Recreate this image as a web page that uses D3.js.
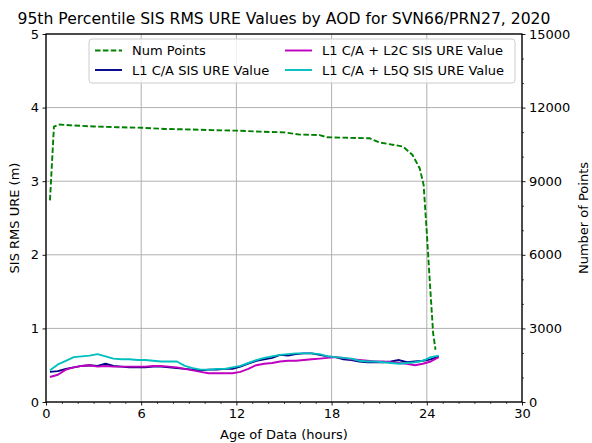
<!DOCTYPE html>
<html><head><meta charset="utf-8">
<script src="https://cdn.jsdelivr.net/npm/d3@7"></script>
<style>
body{margin:0;background:#fff;}
svg{font-family:"DejaVu Sans",sans-serif;}
</style></head>
<body><svg id="c" width="592" height="443"></svg>
<script>
const titleText = "95th Percentile SIS RMS URE Values by AOD for SVN66/PRN27, 2020";
const xLabel = "Age of Data (hours)";
const yLabel = "SIS RMS URE (m)";
const y2Label = "Number of Points";
const xTicks = [0, 6, 12, 18, 24, 30];
const yTicks = [0, 1, 2, 3, 4, 5];
const y2Ticks = [0, 3000, 6000, 9000, 12000, 15000];

const aod = [0.25,0.75,1.25,1.75,2.25,2.75,3.25,3.75,4.25,4.75,5.25,5.75,6.25,6.75,7.25,7.75,8.25,8.75,9.25,9.75,10.25,10.75,11.25,11.75,12.25,12.75,13.25,13.75,14.25,14.75,15.25,15.75,16.25,16.75,17.25,17.75,18.25,18.75,19.25,19.75,20.25,20.75,21.25,21.75,22.25,22.75,23.25,23.75,24.25,24.75];
const l1ca = [0.41,0.42,0.45,0.47,0.49,0.50,0.49,0.52,0.49,0.48,0.47,0.47,0.47,0.48,0.48,0.47,0.46,0.45,0.44,0.43,0.44,0.44,0.45,0.45,0.48,0.52,0.56,0.58,0.60,0.64,0.63,0.65,0.66,0.66,0.64,0.62,0.61,0.58,0.57,0.55,0.54,0.54,0.54,0.55,0.57,0.54,0.55,0.56,0.58,0.62];
const l1l2c = [0.34,0.37,0.44,0.47,0.49,0.50,0.48,0.49,0.48,0.48,0.48,0.48,0.48,0.49,0.49,0.48,0.47,0.45,0.43,0.41,0.39,0.39,0.39,0.39,0.41,0.45,0.50,0.52,0.53,0.55,0.56,0.56,0.57,0.58,0.59,0.60,0.61,0.60,0.58,0.57,0.56,0.55,0.55,0.54,0.53,0.52,0.50,0.52,0.55,0.61];
const l1l5q = [0.43,0.51,0.56,0.61,0.62,0.63,0.65,0.62,0.59,0.58,0.58,0.57,0.57,0.56,0.55,0.55,0.55,0.49,0.46,0.44,0.44,0.45,0.45,0.47,0.49,0.53,0.57,0.60,0.62,0.64,0.65,0.66,0.66,0.66,0.65,0.62,0.61,0.60,0.59,0.56,0.55,0.55,0.54,0.53,0.52,0.53,0.54,0.56,0.61,0.63];

const numHours = [0.25,0.5,0.8,1.5,3,4.5,6,7.5,9,10.5,12,13.5,15,16,17.25,17.7,19,20.4,21.0,22.0,22.5,23.1,23.55,23.8,24.0,24.2,24.4,24.55];
const numPoints = [8220,11220,11310,11280,11230,11200,11180,11130,11110,11080,11060,11020,10990,10900,10880,10790,10770,10750,10580,10470,10410,10070,9530,8850,6900,4800,2800,2130];

const W = 592, H = 443;
const m = {l:46, r:70, t:34, b:41};
const svg = d3.select("#c");
const pw = W - m.l - m.r, ph = H - m.t - m.b;
const x = d3.scaleLinear().domain([0,30]).range([m.l, m.l+pw]);
const y = d3.scaleLinear().domain([0,5]).range([m.t+ph, m.t]);
const y2 = d3.scaleLinear().domain([0,15000]).range([m.t+ph, m.t]);
const fs = 13;

// grid
const g = svg.append("g");
xTicks.forEach(t => g.append("line").attr("x1",x(t)).attr("x2",x(t)).attr("y1",m.t).attr("y2",m.t+ph).attr("stroke","#b0b0b0").attr("stroke-width",1));
yTicks.forEach(t => g.append("line").attr("x1",m.l).attr("x2",m.l+pw).attr("y1",y(t)).attr("y2",y(t)).attr("stroke","#b0b0b0").attr("stroke-width",1));

// lines
const series = [
  {name:"L1 C/A SIS URE Value", vals:l1ca, color:"#00008b"},
  {name:"L1 C/A + L2C SIS URE Value", vals:l1l2c, color:"#bf00bf"},
  {name:"L1 C/A + L5Q SIS URE Value", vals:l1l5q, color:"#00bfbf"}
];
const lineGen = d3.line().x(d=>x(d[0])).y(d=>y(d[1]));
svg.append("path").datum(numHours.map((h,i)=>[h,numPoints[i]]))
  .attr("d", d3.line().x(d=>x(d[0])).y(d=>y2(d[1])))
  .attr("fill","none").attr("stroke","#008000").attr("stroke-width",1.9).attr("stroke-dasharray","5.5,2.4");
series.forEach(s=>{
  svg.append("path").datum(aod.map((h,i)=>[h,s.vals[i]])).attr("d",lineGen)
    .attr("fill","none").attr("stroke",s.color).attr("stroke-width",1.9).attr("stroke-linejoin","round");
});

// axes
function styleAxis(sel){
  sel.selectAll(".domain").remove();
  sel.selectAll(".tick line").attr("stroke","#000").attr("stroke-width",0.9);
  sel.selectAll(".tick text").attr("font-size",fs).attr("fill","#000").attr("font-family","DejaVu Sans");
}
const xa = svg.append("g").attr("transform",`translate(0,${m.t+ph})`)
  .call(d3.axisBottom(x).tickValues(xTicks).tickSize(3.5).tickPadding(3.5).tickFormat(d3.format("d")));
styleAxis(xa);
const xm = svg.append("g").attr("transform",`translate(0,${m.t+ph})`)
  .call(d3.axisBottom(x).tickValues(d3.range(0,31,1).filter(v=>v%6!==0)).tickSize(2).tickFormat(""));
xm.selectAll(".domain").remove(); xm.selectAll(".tick line").attr("stroke","#000").attr("stroke-width",0.7);
const ya = svg.append("g").attr("transform",`translate(${m.l},0)`)
  .call(d3.axisLeft(y).tickValues(yTicks).tickSize(3.5).tickPadding(3.5).tickFormat(d3.format("d")));
styleAxis(ya);
const y2a = svg.append("g").attr("transform",`translate(${m.l+pw},0)`)
  .call(d3.axisRight(y2).tickValues(y2Ticks).tickSize(3.5).tickPadding(3.5).tickFormat(d3.format("d")));
styleAxis(y2a);
const y2m = svg.append("g").attr("transform",`translate(${m.l+pw},0)`)
  .call(d3.axisRight(y2).tickValues(d3.range(0,15001,1000).filter(v=>v%3000!==0)).tickSize(2).tickFormat(""));
y2m.selectAll(".domain").remove(); y2m.selectAll(".tick line").attr("stroke","#000").attr("stroke-width",0.7);

// frame
svg.append("rect").attr("x",m.l).attr("y",m.t).attr("width",pw).attr("height",ph)
  .attr("fill","none").attr("stroke","#000").attr("stroke-width",1.3);

// labels
svg.append("text").attr("x",m.l+pw/2).attr("y",24).attr("text-anchor","middle").attr("font-size",15.6).text(titleText);
svg.append("text").attr("x",m.l+pw/2).attr("y",439).attr("text-anchor","middle").attr("font-size",fs).text(xLabel);
svg.append("text").attr("transform",`translate(19,${m.t+ph/2}) rotate(-90)`).attr("text-anchor","middle").attr("font-size",fs).text(yLabel);
svg.append("text").attr("transform",`translate(588,${m.t+ph/2}) rotate(-90)`).attr("text-anchor","middle").attr("font-size",fs).text(y2Label);

// legend
const lg = svg.append("g");
lg.append("rect").attr("x",89).attr("y",39).attr("width",426).attr("height",44).attr("rx",3)
  .attr("fill","#fff").attr("fill-opacity",0.8).attr("stroke","#cccccc").attr("stroke-width",1);
const items = [
  {name:"Num Points", color:"#008000", dash:"5.5,2.4", cx:95, cy:50.5},
  {name:series[0].name, color:series[0].color, dash:null, cx:95, cy:70},
  {name:series[1].name, color:series[1].color, dash:null, cx:285, cy:50.5},
  {name:series[2].name, color:series[2].color, dash:null, cx:285, cy:70}
];
items.forEach(it=>{
  const l = lg.append("line").attr("x1",it.cx).attr("x2",it.cx+27).attr("y1",it.cy).attr("y2",it.cy)
    .attr("stroke",it.color).attr("stroke-width",1.9);
  if(it.dash) l.attr("stroke-dasharray",it.dash);
  lg.append("text").attr("x",it.cx+37).attr("y",it.cy).attr("dy","0.35em").attr("font-size",fs).text(it.name);
});
</script></body></html>
